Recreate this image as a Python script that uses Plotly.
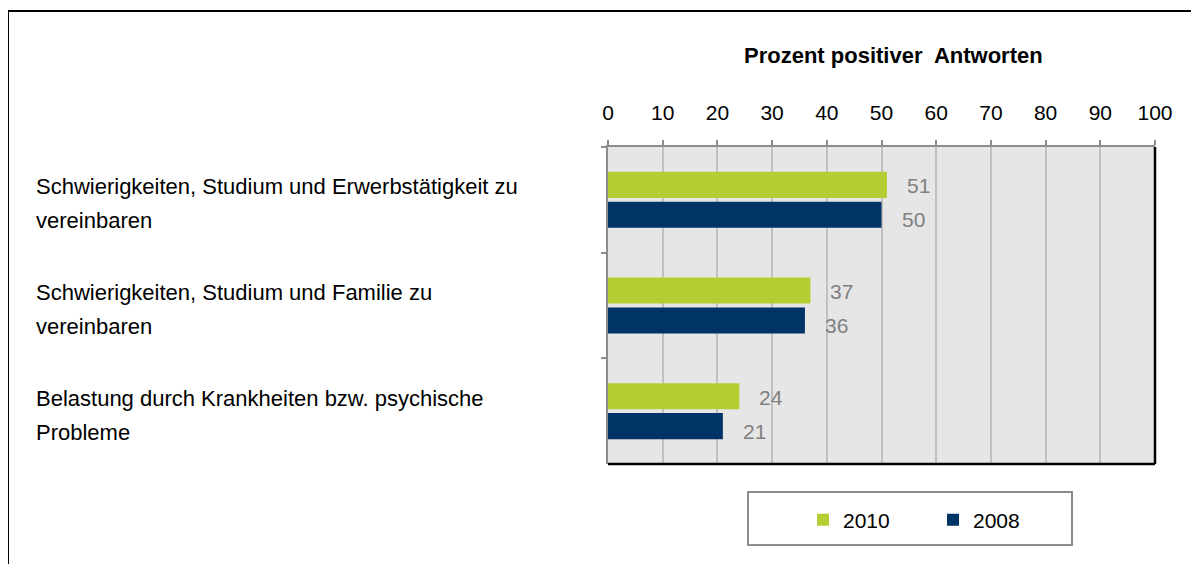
import plotly.graph_objects as go

# Data
categories = [
    "Schwierigkeiten, Studium und Erwerbstätigkeit zu<br>vereinbaren",
    "Schwierigkeiten, Studium und Familie zu<br>vereinbaren",
    "Belastung durch Krankheiten bzw. psychische<br>Probleme",
]
values_2010 = [51, 37, 24]
values_2008 = [50, 36, 21]
series_names = ["2010", "2008"]
x_ticks = [0, 10, 20, 30, 40, 50, 60, 70, 80, 90, 100]

font_family = "Liberation Sans, Arial, sans-serif"
green = "#B3CE33"
navy = "#003366"

# the page body adds an 8px margin, so the figure is 8px smaller
OFF = 8
FW, FH = 1199 - OFF, 564 - OFF
# plot area (reference pixel coords)
PX0, PX1, PY0, PY1 = 608, 1155, 147, 464
L, R, T, B = PX0 - OFF, 1199 - PX1, PY0 - OFF, 564 - PY1
W = PX1 - PX0
H = PY1 - PY0


def px(x):
    return (x - PX0) / W


def py(y):
    return (PY1 - y) / H


fig = go.Figure()
for name, vals, col in [(series_names[0], values_2010, green),
                        (series_names[1], values_2008, navy)]:
    fig.add_trace(go.Bar(
        x=vals, y=categories, name=name, orientation="h",
        marker=dict(color=col, line=dict(width=0)),
    ))

annotations = []
# value labels
for i, vals in enumerate([values_2010, values_2008]):
    for cat, v in zip(categories, vals):
        annotations.append(dict(
            x=v, y=cat, xref="x", yref="y", text=str(v), showarrow=False,
            xanchor="left", yanchor="middle", xshift=18,
            yshift=14 if i == 0 else -20,
            font=dict(size=21, color="#808080", family=font_family),
        ))

# category labels, left aligned, one annotation per line
for cat in categories:
    for j, line in enumerate(cat.split("<br>")):
        annotations.append(dict(
            x=px(34), y=cat, xref="paper", yref="y", text=line,
            showarrow=False, xanchor="left", yanchor="middle",
            yshift=13 - 34 * j,
            font=dict(size=22, color="#000000", family=font_family),
        ))

# axis title
annotations.append(dict(
    x=px(893), y=py(55), xref="paper", yref="paper",
    xanchor="center", yanchor="middle",
    text="<b>Prozent positiver  Antworten</b>", showarrow=False,
    font=dict(size=22, color="#000000", family=font_family),
))

shapes = [
    # outer frame (left and top edges)
    dict(type="line", xref="paper", yref="paper",
         x0=px(8), x1=px(8), y0=-2, y1=py(11),
         line=dict(color="#000000", width=2)),
    dict(type="line", xref="paper", yref="paper",
         x0=px(8), x1=2, y0=py(11), y1=py(11),
         line=dict(color="#000000", width=2)),
    # black right and bottom borders of plot area
    dict(type="line", xref="paper", yref="paper", x0=1, x1=1, y0=0, y1=1,
         line=dict(color="#000000", width=2.5)),
    dict(type="line", xref="paper", yref="paper", x0=0, x1=1, y0=0, y1=0,
         line=dict(color="#000000", width=2.5)),
    # legend box
    dict(type="rect", xref="paper", yref="paper",
         x0=px(748), x1=px(1072), y0=py(545), y1=py(492),
         line=dict(color="#8C8C8C", width=2), fillcolor="#FFFFFF",
         layer="below"),
]

fig.update_layout(
    width=FW, height=FH,
    margin=dict(l=L, r=R, t=T, b=B),
    paper_bgcolor="#FFFFFF",
    plot_bgcolor="#E6E6E6",
    barmode="group",
    bargap=0.434,
    bargroupgap=0.13,
    font=dict(family=font_family, size=20, color="#000000"),
    showlegend=True,
    legend=dict(
        orientation="h", x=px(803), xanchor="left",
        y=py(520), yanchor="middle",
        borderwidth=0, bgcolor="rgba(0,0,0,0)",
        font=dict(size=21, family=font_family),
        entrywidth=85, traceorder="normal",
    ),
    annotations=annotations,
    shapes=shapes,
)

fig.update_xaxes(
    side="top", range=[0, 100], tickvals=x_ticks,
    showgrid=True, gridcolor="#C0C0C0", gridwidth=1.5,
    showline=True, linecolor="#8C8C8C", linewidth=2,
    ticks="outside", ticklen=5, tickcolor="#8C8C8C", tickwidth=1.5,
    ticklabelstandoff=12, tickfont=dict(size=21, color="#000000"),
    zeroline=False, fixedrange=True,
)
fig.update_yaxes(
    autorange="reversed", showticklabels=False,
    showline=True, linecolor="#8C8C8C", linewidth=2,
    ticks="outside", tickson="boundaries", ticklen=5,
    tickcolor="#8C8C8C", tickwidth=1.5, showgrid=False, fixedrange=True,
)

fig.write_html("out.html")
